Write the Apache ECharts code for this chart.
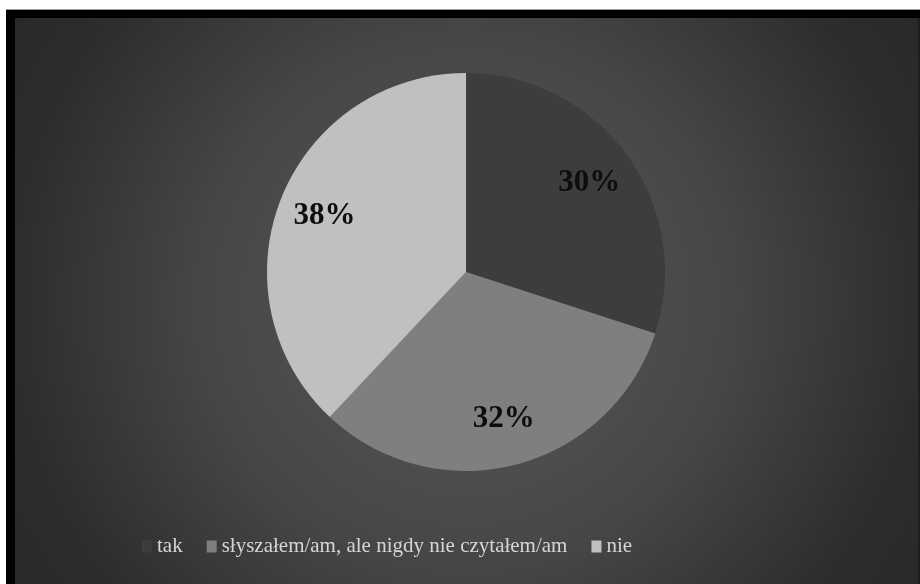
<!DOCTYPE html>
<html>
<head>
<meta charset="utf-8">
<script src="https://cdn.jsdelivr.net/npm/echarts@6/dist/echarts.min.js"></script>
<style>
  html, body { margin: 0; padding: 0; background: #ffffff; }
  body { width: 920px; height: 584px; position: relative; overflow: hidden; }
  #frame { position: absolute; left: 6px; top: 9px; width: 914px; height: 575px; background: #000; border-top: 1px solid #9a9a9a; box-sizing: border-box; }
  #chart { position: absolute; left: 15px; top: 18px; width: 903px; height: 566px; }
  #edge { position: absolute; left: 918px; top: 18px; width: 2px; height: 566px; background: #1e1e1e; }
</style>
</head>
<body>
<div id="frame"></div>
<div id="chart"></div>
<div id="edge"></div>
<script>
// Survey answers and their shares (percent)
const categories = ['tak', 'słyszałem/am, ale nigdy nie czytałem/am', 'nie'];
const shares = [30, 32, 38];
const sliceColors = ['#3d3d3d', '#7f7f7f', '#c0c0c0'];

const serif = '"Liberation Serif", "DejaVu Serif", serif';
const pieCenter = [451, 254];
const pieRadius = 199;

const sliceData = categories.map((name, i) => ({
  name: name,
  value: shares[i],
  itemStyle: { color: sliceColors[i] }
}));

const chart = echarts.init(document.getElementById('chart'), null, { renderer: 'canvas' });
chart.setOption({
  animation: false,
  backgroundColor: {
    type: 'radial', x: 0.5, y: 0.5, r: 0.94,
    colorStops: [
      { offset: 0, color: '#595959' },
      { offset: 0.5, color: '#464646' },
      { offset: 0.85, color: '#2d2d2d' },
      { offset: 1, color: '#292929' }
    ]
  },
  legend: {
    left: 122,
    top: 513,
    itemWidth: 10,
    itemHeight: 12,
    itemGap: 24,
    icon: 'rect',
    data: categories,
    textStyle: { color: '#d6d6d6', fontFamily: serif, fontSize: 21 }
  },
  series: [
    {
      name: 'udział',
      type: 'pie',
      center: pieCenter,
      radius: [0, pieRadius],
      startAngle: 90,
      clockwise: true,
      label: { show: false },
      labelLine: { show: false },
      emphasis: { disabled: true },
      data: sliceData
    },
    {
      // transparent ring that carries the percentage labels at 3/4 of the radius
      name: 'etykiety',
      type: 'pie',
      center: pieCenter,
      radius: [pieRadius / 2, pieRadius],
      startAngle: 90,
      clockwise: true,
      silent: true,
      legendHoverLink: false,
      itemStyle: { color: 'rgba(0,0,0,0)' },
      labelLine: { show: false },
      label: {
        show: true,
        position: 'inside',
        formatter: p => p.value + '%',
        color: '#0d0d0d',
        fontFamily: serif,
        fontWeight: 'bold',
        fontSize: 31
      },
      data: categories.map((name, i) => ({ name: name + ' ', value: shares[i] }))
    }
  ]
});
</script>
</body>
</html>
